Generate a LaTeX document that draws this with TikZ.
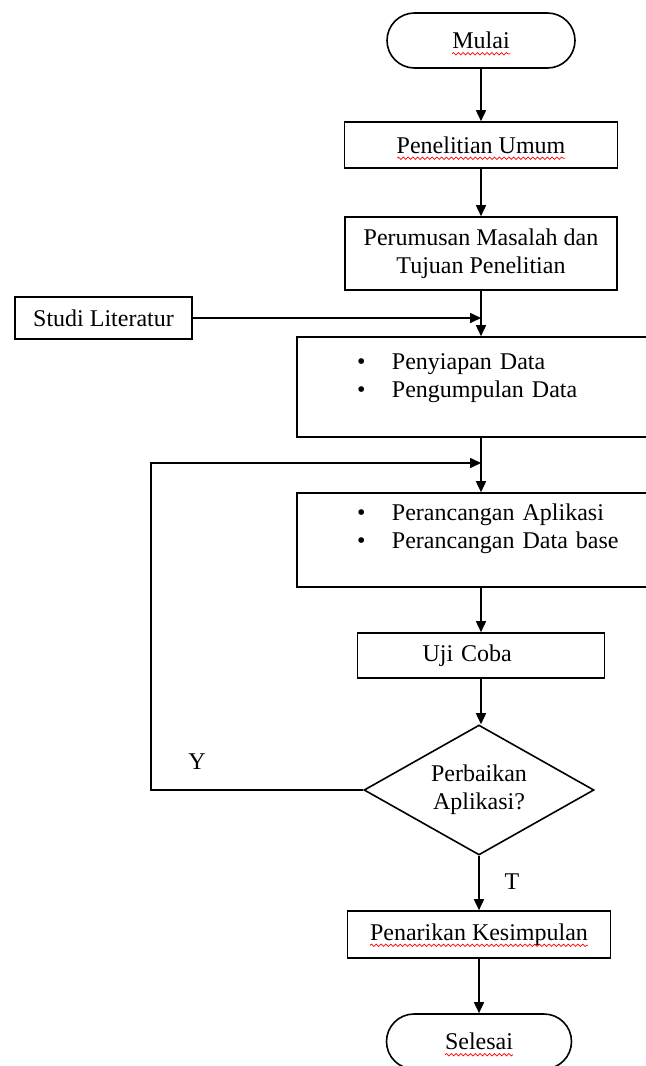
\documentclass[tikz,border=0pt]{standalone}
\usepackage{fontspec}
\setmainfont{Liberation Serif}
\usetikzlibrary{arrows.meta,shapes.geometric,shapes.misc,decorations.pathmorphing}
\newcommand{\squig}[2]{\draw[squig] ([xshift=-#2,yshift=-2.5pt]#1.base) -- ([xshift=#2,yshift=-2.5pt]#1.base);}

\begin{document}
\begin{tikzpicture}[x=0.5pt,y=-0.5pt,
  every node/.style={font=\fontsize{12}{14}\selectfont, inner sep=0pt},
  proc/.style={draw, rectangle, line width=0.8pt, align=center},
  term/.style={draw, rounded rectangle, line width=0.8pt, minimum width=94pt, minimum height=27.5pt},
  dec/.style={draw, diamond, aspect=1.8, line width=0.8pt, minimum width=115pt, minimum height=65pt, align=center},
  list/.style={proc, minimum width=184pt, text width=124pt, inner xsep=30pt, align=left},
  arr/.style={line width=0.8pt, -{Triangle[length=5.5pt,width=5pt]}},
  squig/.style={red, line width=0.35pt, decorate, decoration={snake, amplitude=0.6pt, segment length=2.4pt}}]
\useasboundingbox (0,0) rectangle (646,1066);
\node[term] (mulai) at (481,40.5) {Mulai};
\node[proc, minimum width=136.5pt, minimum height=23pt] (umum) at (481,145) {Penelitian Umum};
\node[proc, minimum width=136pt, minimum height=36.5pt] (rumus) at (481,253.5) {Perumusan Masalah dan\\Tujuan Penelitian};
\node[proc, minimum width=88.5pt, minimum height=21pt] (studi) at (103.5,318) {Studi Literatur};
\node[list, minimum height=50pt] (siap) at (481,387) {\begin{tabular}{@{}p{17.5pt}@{}l@{}}
\textbullet & Penyiapan Data\\
\textbullet & Pengumpulan Data\\[9pt]
\end{tabular}};
\node[list, minimum height=47pt] (rancang) at (481,540) {\begin{tabular}{@{}p{17.5pt}@{}l@{}}
\textbullet & Perancangan Aplikasi\\
\textbullet & Perancangan Data base\\[11pt]
\end{tabular}};
\node[proc, minimum width=123.5pt, minimum height=22.5pt, text width=58.5pt, inner xsep=32.5pt, align=left] (uji) at (481,655.5) {Uji Coba};
\node[dec] (cek) at (479,790) {Perbaikan\\Aplikasi?};
\node[proc, minimum width=131.5pt, minimum height=23.5pt] (tarik) at (479,934.5) {Penarikan Kesimpulan};
\node[term, minimum width=92.5pt] (selesai) at (479,1041.5) {Selesai};
\node (ya) at (197,762) {Y};
\node (tidak) at (512,882) {T};
\coordinate (balik) at (151,463);
\squig{mulai}{14.5pt}
\squig{umum}{42pt}
\squig{tarik}{54.5pt}
\squig{selesai}{17pt}
\draw[arr] (mulai) -- (umum);
\draw[arr] (umum) -- (rumus);
\draw[arr] (rumus) -- (siap);
\draw[arr] (studi.east) -- (studi.east -| rumus.south);
\draw[arr] (siap) -- (rancang);
\draw[arr] (cek.west) -| (balik) -- (balik -| siap.south);
\draw[arr] (rancang) -- (uji);
\draw[arr] (uji) -- (uji |- cek.north);
\draw[arr] (cek) -- (tarik);
\draw[arr] (tarik) -- (selesai);
\end{tikzpicture}
\end{document}
